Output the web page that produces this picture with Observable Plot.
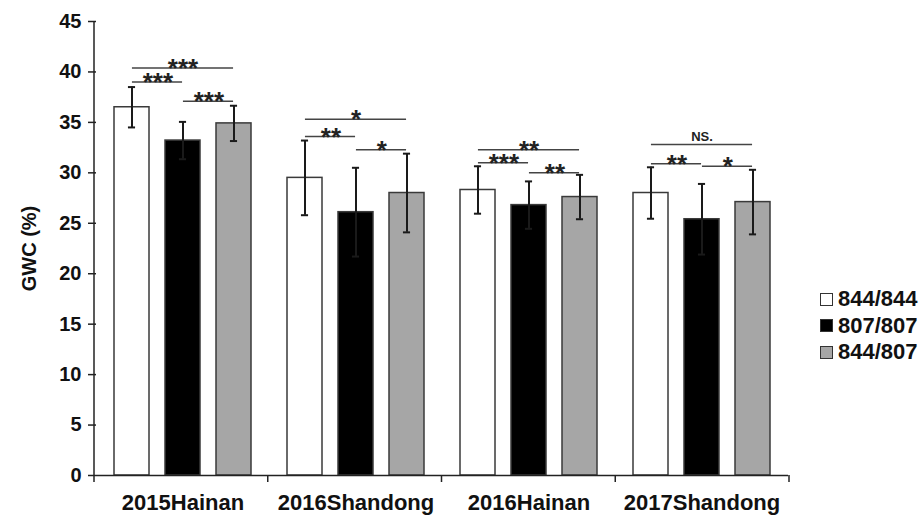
<!DOCTYPE html>
<html>
<head>
<meta charset="utf-8">
<script src="https://cdn.jsdelivr.net/npm/d3@7"></script>
<script src="https://cdn.jsdelivr.net/npm/@observablehq/plot@0.6"></script>
<style>
  html, body { margin: 0; padding: 0; background: #fff; }
  #wrap { position: relative; width: 924px; height: 515px; font-family: "Liberation Sans", Arial, sans-serif; }
  #legend { position: absolute; left: 820px; top: 286px; font-weight: bold; font-size: 22px; color: #111; }
  #legend .item { display: flex; align-items: center; height: 26.5px; }
  #legend .sw { width: 11px; height: 11px; border: 1.5px solid #333; margin-right: 5px; }
</style>
</head>
<body>
<div id="wrap"><div id="legend"></div></div>
<script>
// ---- data ----
const categories = ["2015Hainan", "2016Shandong", "2016Hainan", "2017Shandong"];
const genotypes = ["844/844", "807/807", "844/807"];
const genotypeColors = ["#ffffff", "#000000", "#a6a6a6"];
const mean844_844 = [36.5, 29.5, 28.3, 28.0];
const mean807_807 = [33.2, 26.1, 26.8, 25.4];
const mean844_807 = [34.9, 28.0, 27.6, 27.1];
const sd844_844 = [2.0, 3.7, 2.35, 2.55];
const sd807_807 = [1.85, 4.4, 2.35, 3.5];
const sd844_807 = [1.75, 3.9, 2.2, 3.2];
const yTicks = [0, 5, 10, 15, 20, 25, 30, 35, 40, 45];
// significance brackets: category, from-genotype, to-genotype, height, label
const sigCategory = ["2015Hainan", "2015Hainan", "2015Hainan",
  "2016Shandong", "2016Shandong", "2016Shandong",
  "2016Hainan", "2016Hainan", "2016Hainan",
  "2017Shandong", "2017Shandong", "2017Shandong"];
const sigFrom = ["844/844", "844/844", "807/807", "844/844", "844/844", "807/807",
  "844/844", "844/844", "807/807", "844/844", "844/844", "807/807"];
const sigTo = ["844/807", "807/807", "844/807", "844/807", "807/807", "844/807",
  "844/807", "807/807", "844/807", "844/807", "807/807", "844/807"];
const sigY = [40.4, 39.0, 37.1, 35.3, 33.6, 32.3, 32.3, 31.0, 30.0, 32.8, 30.9, 30.65];
const sigLabel = ["***", "***", "***", "*", "**", "*", "**", "***", "**", "NS.", "**", "*"];

// ---- tables ----
const means = [mean844_844, mean807_807, mean844_807];
const sds = [sd844_844, sd807_807, sd844_807];
const rows = [];
categories.forEach((c, i) => genotypes.forEach((g, j) => rows.push({cat: c, geno: g, mean: means[j][i], sd: sds[j][i]})));
const sig = sigCategory.map((c, i) => ({cat: c, from: sigFrom[i], to: sigTo[i], y: sigY[i], label: sigLabel[i]}));
const wide = sig.filter(d => d.from === genotypes[0] && d.to === genotypes[2]);
const narrow = sig.filter(d => !(d.from === genotypes[0] && d.to === genotypes[2]));

const W = 924, H = 515, mL = 94, mR = 135, mT = 21, mB = 40;
const facetW = (W - mL - mR) / categories.length;
const pIn = 16 / 52, pOut = 0.33;
const step = facetW / (genotypes.length - pIn + 2 * pOut);
const bw = step * (1 - pIn);
const font = "'Liberation Sans', Arial, sans-serif";

const chart = Plot.plot({
  width: W, height: H,
  marginTop: mT, marginBottom: mB, marginLeft: mL, marginRight: mR,
  style: {fontFamily: font, background: "#fff", color: "#111"},
  fx: {domain: categories, padding: 0, label: null},
  x: {domain: genotypes, paddingInner: pIn, paddingOuter: pOut, axis: null},
  y: {domain: [0, 45], label: null},
  color: {domain: genotypes, range: genotypeColors},
  marks: [
    Plot.axisY({ticks: yTicks, tickSize: 8, tickPadding: 7, fontSize: 20, fontWeight: "bold",
      label: "GWC (%)", labelAnchor: "center", labelOffset: 75, labelArrow: "none", stroke: "#222", strokeWidth: 1.5}),
    Plot.axisFx({anchor: "bottom", tickSize: 0, tickPadding: 19, fontSize: 22, fontWeight: "bold", label: null}),
    Plot.barY(rows, {fx: "cat", x: "geno", y: "mean", fill: "geno", stroke: "#3a3a3a", strokeWidth: 1.5}),
    Plot.ruleX(rows, {fx: "cat", x: "geno", y1: d => d.mean - d.sd, y2: d => d.mean + d.sd, stroke: "#1a1a1a", strokeWidth: 2}),
    Plot.tickY(rows, {fx: "cat", x: "geno", y: d => d.mean - d.sd, insetLeft: (bw - 8) / 2, insetRight: (bw - 8) / 2, stroke: "#1a1a1a", strokeWidth: 2}),
    Plot.tickY(rows, {fx: "cat", x: "geno", y: d => d.mean + d.sd, insetLeft: (bw - 8) / 2, insetRight: (bw - 8) / 2, stroke: "#1a1a1a", strokeWidth: 2}),
    Plot.ruleY([0], {stroke: "#222", strokeWidth: 1.5}),
    Plot.ruleY(sig, {fx: "cat", x1: "from", x2: "to", y: "y", insetLeft: bw / 2, insetRight: bw / 2, stroke: "#444", strokeWidth: 1.5}),
    Plot.text(wide.filter(d => d.label !== "NS."), {fx: "cat", x: () => genotypes[1], y: "y", text: "label", lineAnchor: "bottom", dy: 9, fontSize: 26, fontWeight: "bold", fill: "#222"}),
    Plot.text(wide.filter(d => d.label === "NS."), {fx: "cat", x: () => genotypes[1], y: "y", text: "label", lineAnchor: "bottom", dy: -4, fontSize: 13, fontWeight: "bold", fill: "#222"}),
    Plot.text(narrow, {fx: "cat", x: "from", y: "y", text: "label", dx: step / 2, lineAnchor: "bottom", dy: 9, fontSize: 26, fontWeight: "bold", fill: "#222"})
  ]
});

// y-axis domain line and category boundary ticks
const svg = d3.select(chart);
const g = svg.append("g").attr("stroke", "#222").attr("stroke-width", 1.5);
g.append("line").attr("x1", mL).attr("x2", mL).attr("y1", mT).attr("y2", H - mB);
d3.range(categories.length + 1).forEach(i => {
  const x = mL + i * facetW;
  g.append("line").attr("x1", x).attr("x2", x).attr("y1", H - mB).attr("y2", H - mB + 7);
});

document.getElementById("wrap").prepend(chart);
chart.style.position = "absolute"; chart.style.left = "0"; chart.style.top = "0";

const legend = d3.select("#legend");
genotypes.forEach((g, i) => {
  const it = legend.append("div").attr("class", "item");
  it.append("div").attr("class", "sw").style("background", genotypeColors[i]);
  it.append("span").text(g);
});
</script>
</body>
</html>
